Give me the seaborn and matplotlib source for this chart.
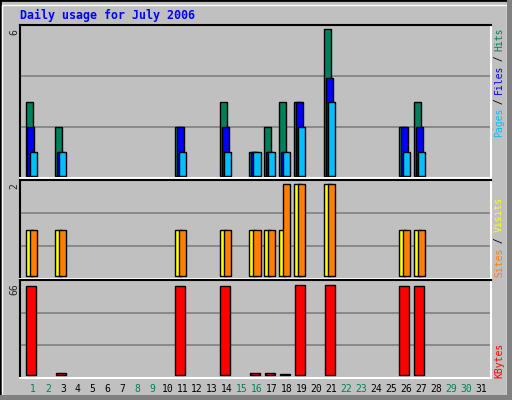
import matplotlib
matplotlib.use('Agg')
import matplotlib.pyplot as plt
import seaborn as sns
import numpy as np
from matplotlib.patches import Rectangle

# Данные (дни июля 2006)
days = [1, 3, 11, 14, 16, 17, 18, 19, 21, 26, 27]
hits = [3, 2, 2, 3, 1, 2, 3, 3, 6, 2, 3]
files = [2, 1, 2, 2, 1, 1, 1, 3, 4, 2, 2]
pages = [1, 1, 1, 1, 1, 1, 1, 2, 3, 1, 1]
visits = [1, 1, 1, 1, 1, 1, 1, 2, 2, 1, 1]
sites = [1, 1, 1, 1, 1, 1, 2, 2, 2, 1, 1]
kbytes = [65, 1.5, 65, 65, 1.5, 1.5, 0.4, 66, 66, 65, 65]
weekend = [1, 2, 8, 9, 15, 16, 22, 23, 29, 30]

C_HITS, C_FILES, C_PAGES = '#00805C', '#0000FF', '#00C0FF'
C_VISITS, C_SITES, C_KB = '#FFFF00', '#FF8000', '#FF0000'
BG = '#C0C0C0'
MONO = 'DejaVu Sans Mono'

sns.set_style('white')
fig = plt.figure(figsize=(5.12, 4.0), dpi=100, facecolor=BG)

# рамка
fig.patches.append(Rectangle((0, 0), 1, 1, transform=fig.transFigure, fill=False,
                             edgecolor='black', lw=2))
fig.patches.append(Rectangle((2 / 512, 2 / 400), 505 / 512, 393 / 400, transform=fig.transFigure,
                             fill=False, edgecolor='white', lw=1))
fig.patches.append(Rectangle((507 / 512, 0), 5 / 512, 1, transform=fig.transFigure,
                             color='#808080', lw=0))
fig.patches.append(Rectangle((0, 0), 1, 5 / 400, transform=fig.transFigure,
                             color='#808080', lw=0))

W = 471 / 512
x0 = 20 / 512
ax1 = fig.add_axes([x0, 1 - 178 / 400, W, 153 / 400])
ax2 = fig.add_axes([x0, 1 - 279 / 400, W, 99 / 400])
ax3 = fig.add_axes([x0, 1 - 378 / 400, W, 98 / 400])

d = np.array(days, dtype=float)
bw = 0.47
ax1.bar(d - 0.5, hits, width=bw, align='edge', color=C_HITS, edgecolor='black', lw=1)
ax1.bar(d - 0.37, files, width=bw, align='edge', color=C_FILES, edgecolor='black', lw=1)
ax1.bar(d - 0.23, pages, width=bw, align='edge', color=C_PAGES, edgecolor='black', lw=1)
ax2.bar(d - 0.5, visits, width=bw, align='edge', color=C_VISITS, edgecolor='black', lw=1)
ax2.bar(d - 0.23, sites, width=bw, align='edge', color=C_SITES, edgecolor='black', lw=1)
ax3.bar(d - 0.47, kbytes, width=0.67, align='edge', color=C_KB, edgecolor='black', lw=1)

ax1.set_ylim(-0.08, 6.16)
ax2.set_ylim(-0.065, 2.087)
ax3.set_ylim(-2.2, 69.7)

for ax in (ax1, ax2, ax3):
    ax.set_facecolor(BG)
    ax.set_xlim(0.13, 31.68)
    ax.set_yticks([])
    # линии сетки на трети высоты панели
    for f in (1 / 3, 2 / 3):
        ax.plot([0, 1], [f, f], transform=ax.transAxes, color='#808080', lw=1.2, zorder=0)
    ax.spines['left'].set_color('black')
    ax.spines['top'].set_color('black')
    ax.spines['right'].set_color('white')
    ax.spines['bottom'].set_color('white')
    for s in ax.spines.values():
        s.set_linewidth(1.5)
    ax.tick_params(length=0)

ax1.set_xticks([])
ax2.set_xticks([])
ax3.set_xticks(range(1, 32))
ax3.set_xticklabels([str(i) for i in range(1, 32)], fontsize=7, family=MONO)
for lbl, i in zip(ax3.get_xticklabels(), range(1, 32)):
    lbl.set_color(C_HITS if i in weekend else 'black')
ax3.tick_params(axis='x', pad=4)

fig.text(20 / 512, 1 - 15 / 400, 'Daily usage for July 2006', color='#0000FF',
         family=MONO, fontweight='bold', fontsize=8.4, va='center')

for txt, ytop in (('6', 29), ('2', 183), ('66', 283)):
    fig.text(14 / 512, 1 - ytop / 400, txt, rotation=90, family=MONO, fontsize=7,
             ha='center', va='top')


def vlabel(parts, ybottom, step):
    y = ybottom
    for txt, col in parts:
        fig.text(499 / 512, 1 - y / 400, txt, rotation=90, color=col, family=MONO,
                 fontsize=7, ha='center', va='bottom')
        y -= step * len(txt)


vlabel([('Pages', C_PAGES), (' / ', 'black'), ('Files', C_FILES), (' / ', 'black'),
        ('Hits', C_HITS)], 137, 5.35)
vlabel([('Sites', C_SITES), (' / ', 'black'), ('Visits', C_VISITS)], 277, 5.6)
vlabel([('KBytes', C_KB)], 378, 6.0)

fig.savefig('out.png', dpi=100, facecolor=BG)
